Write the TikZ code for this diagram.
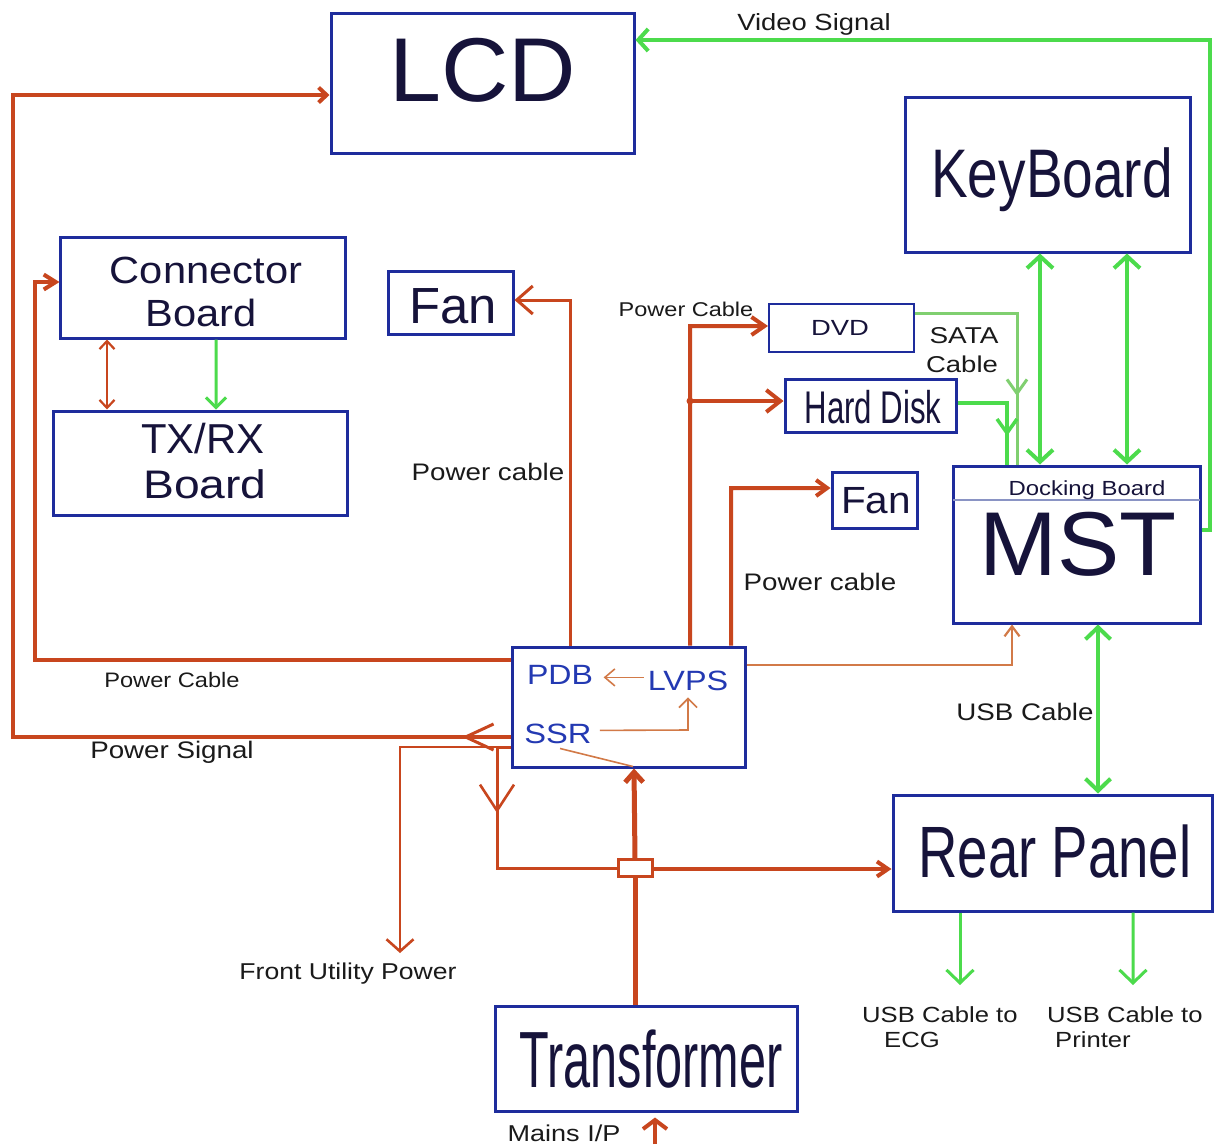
\documentclass[tikz,border=0pt]{standalone}
\usepackage{fontspec}
\setmainfont{Liberation Sans}
\usepackage{graphicx}
\usetikzlibrary{arrows.meta,calc}
\definecolor{boxblue}{HTML}{1E2C9C}
\definecolor{pwr}{HTML}{C8461E}
\definecolor{pwrlt}{HTML}{D27A48}
\definecolor{sig}{HTML}{4CDB4C}
\definecolor{sigdull}{HTML}{80CF70}
\definecolor{ink}{HTML}{16133A}
\definecolor{lbl}{HTML}{1A1A1A}
\definecolor{bluetxt}{HTML}{2339B2}
\definecolor{divider}{HTML}{8A94C4}
\newcommand{\txt}[3]{\scalebox{#2}[1]{\fontsize{#1}{#1}\selectfont #3}}
\begin{document}
\begin{tikzpicture}[x=1bp,y=-1bp,
  box/.style={draw=boxblue, line width=3bp, fill=white, inner sep=0pt, rectangle},
  title/.style={anchor=base, inner sep=0pt, text=ink},
  lab/.style={anchor=base, inner sep=0pt, text=lbl},
  bluelab/.style={anchor=base, inner sep=0pt, text=bluetxt},
  pline/.style={draw=pwr, line width=4bp},
  pthin/.style={draw=pwrlt, line width=1.6bp},
  gline/.style={draw=sig, line width=4bp},
  gdull/.style={draw=sigdull, line width=3bp},
]
\fill[white] (0,0) rectangle (1216,1146);
\useasboundingbox (0,0) rectangle (1216,1146);

% ---------- boxes ----------
\node[box, minimum width=303bp, minimum height=140bp] (lcd) at (482.5,83) {};
\node[box, minimum width=285bp, minimum height=155bp] (kb) at (1047.5,174.5) {};
\node[box, minimum width=284bp, minimum height=101bp] (cb) at (203,287.5) {};
\node[box, minimum width=293bp, minimum height=104bp] (tx) at (200.5,463) {};
\node[box, minimum width=125bp, minimum height=63bp] (fan1) at (450.5,302.5) {};
\node[box, line width=2bp, minimum width=145bp, minimum height=48bp] (dvd) at (841.5,328) {};
\node[box, minimum width=171bp, minimum height=53bp] (hd) at (870.5,405.5) {};
\node[box, minimum width=85bp, minimum height=56bp] (fan2) at (874.5,500) {};
\node[box, minimum width=247bp, minimum height=157bp] (mst) at (1076.5,544.5) {};
\node[box, minimum width=233bp, minimum height=120bp] (pdb) at (628.5,707) {};
\node[box, minimum width=319bp, minimum height=116bp] (rear) at (1052.5,853) {};
\node[box, minimum width=302bp, minimum height=105bp] (trans) at (646,1058.5) {};
\draw[divider, line width=1.2bp] ($(mst.west)+(1.5,-44.5)$) -- ($(mst.east)+(-1.5,-44.5)$);

% ---------- texts ----------
\node[title] (lcdT) at (483,101) {\txt{91}{1.03}{LCD}};
\node[lab] (vidT) at (814,30) {\txt{23.5}{1.17}{Video Signal}};
\node[title] (kbT) at (1052,197) {\txt{69}{0.8}{KeyBoard}};
\node[title] (cbT1) at (206,283) {\txt{38}{1.1}{Connector}};
\node[title] (cbT2) at (201,326) {\txt{38}{1.1}{Board}};
\node[title] (txT1) at (203,453) {\txt{42}{1.0}{TX/RX}};
\node[title] (txT2) at (205,498) {\txt{40}{1.16}{Board}};
\node[title] (fan1T) at (453,323) {\txt{51}{1}{Fan}};
\node[lab] (pcT) at (686,316) {\txt{20}{1.18}{Power Cable}};
\node[title] (dvdT) at (840,335) {\txt{22}{1.25}{DVD}};
\node[lab] (sataT1) at (964,343) {\txt{23}{1.22}{SATA}};
\node[lab] (sataT2) at (962,372) {\txt{23}{1.2}{Cable}};
\node[title] (hdT) at (873,423) {\txt{46}{0.68}{Hard Disk}};
\node[title] (fan2T) at (876,513) {\txt{38}{1.07}{Fan}};
\node[title] (dockT) at (1087,495) {\txt{20.5}{1.17}{Docking Board}};
\node[title] (mstT) at (1078,575) {\txt{91}{1.03}{MST}};
\node[lab] (pcmT) at (488,480) {\txt{24}{1.16}{Power cable}};
\node[lab] (pcrT) at (820,590) {\txt{24}{1.16}{Power cable}};
\node[bluelab] (pdbT) at (560,684) {\txt{28}{1.15}{PDB}};
\node[bluelab] (lvpsT) at (688,690) {\txt{28}{1.16}{LVPS}};
\node[bluelab] (ssrT) at (558,743) {\txt{28}{1.17}{SSR}};
\node[lab] (pclT) at (172,687) {\txt{21}{1.13}{Power Cable}};
\node[lab] (psT) at (172,758) {\txt{24}{1.16}{Power Signal}};
\node[lab] (usbT) at (1025,720) {\txt{24}{1.16}{USB Cable}};
\node[title] (rearT) at (1055,877) {\txt{73}{0.75}{Rear Panel}};
\node[lab] (fupT) at (348,979) {\txt{23}{1.16}{Front Utility Power}};
\node[title] (transT) at (651,1087) {\txt{80}{0.61}{Transformer}};
\node[lab] (mainsT) at (564,1141) {\txt{23}{1.18}{Mains I/P}};
\node[lab, anchor=base west] (ecgT1) at (862,1022) {\txt{22}{1.17}{USB Cable to}};
\node[lab, anchor=base west] (ecgT2) at (884,1047) {\txt{22}{1.17}{ECG}};
\node[lab, anchor=base west] (prnT1) at (1047,1022) {\txt{22}{1.17}{USB Cable to}};
\node[lab, anchor=base west] (prnT2) at (1055,1047) {\txt{22}{1.17}{Printer}};

% ---------- free end coordinates ----------
\coordinate (fup) at (400,953);
\coordinate (ecg) at (960,985);
\coordinate (prn) at (1133,985);
\coordinate (mains) at (655,1144);

% ---------- power (orange) ----------
% power signal to LCD
\draw[pline, -{Straight Barb[length=8bp,width=15bp]}]
  ($(pdb.west)+(0,30)$) -- (13,737) -- (13,95) -- ($(lcd.west)+(0,12)$);
\draw[pwr, line width=3bp, -{Straight Barb[length=28bp,width=26bp]}] (500,737) -- (462,737);
% power cable to connector board
\draw[pline, -{Straight Barb[length=12bp,width=15bp]}]
  ($(pdb.west)+(0,-47)$) -- (35,660) -- (35,282) -- ($(cb.west)+(0,-5.5)$);
% front utility power
\draw[pwr, line width=2.6bp, -{Straight Barb[length=12bp,width=27bp]}]
  ($(pdb.west)+(0,40)$) -- (400,747) -- (fup);
% to rear panel via junction
\draw[pwr, line width=3bp] ($(pdb.west)+(0,40)$) -- (497,747) -- (497,868) -- (618,868);
\draw[pwr, line width=2.6bp, -{Straight Barb[length=26bp,width=34bp]}] (497,790) -- (497,813);
\draw[pline, -{Straight Barb[length=11bp,width=15bp]}] (652,869) -- ($(rear.west)+(0,16)$);
% transformer up to PDB
\draw[pwr, line width=5bp] ($(trans.north)+(-11,0)$) -- (635,876);
\draw[pwr, line width=5bp, -{Straight Barb[length=10bp,width=18bp]}] (635,859) -- ($(pdb.south)+(5.5,0)$);
\node[draw=pwr, line width=3bp, fill=white, minimum width=34bp, minimum height=17bp, inner sep=0pt] (jb) at (635,867.5) {};
% fan 1
\draw[pwr, line width=3bp, -{Straight Barb[length=16bp,width=28bp]}]
  ($(pdb.north)+(-58.5,0)$) -- (570,300) -- ($(fan1.east)+(0,-2.5)$);
% DVD and Hard Disk
\draw[pline, -{Straight Barb[length=13bp,width=18bp]}]
  ($(pdb.north)+(61.5,0)$) -- (690,326) -- ($(dvd.west)+(0,-2)$);
\draw[pline, -{Straight Barb[length=14bp,width=22bp]}]
  (690,401) -- ($(hd.west)+(0,-4.5)$);
\fill[pwr] (690,401) circle (3.5bp);
% fan 2
\draw[pline, -{Straight Barb[length=11bp,width=16bp]}]
  ($(pdb.north)+(102.5,0)$) -- (731,488) -- ($(fan2.west)+(0,-12)$);
% PDB to MST
\draw[pwrlt, line width=2.2bp, -{Straight Barb[length=10bp,width=15bp]}]
  ($(pdb.east)+(0,-42)$) -- (1012,665) -- ($(mst.south)+(-64.5,0)$);
% connector board <-> TX/RX
\draw[pwr, line width=2.2bp, {Straight Barb[length=8bp,width=15bp]}-{Straight Barb[length=8bp,width=15bp]}]
  ($(cb.south)+(-96,0)$) -- ($(tx.north)+(-93.5,0)$);
% inside PDB block
\draw[pthin, -{Straight Barb[length=10bp,width=17bp]}] ($(lvpsT.west)+(-4,-3)$) -- ($(lvpsT.west)+(-44,-3)$);
\draw[pthin, -{Straight Barb[length=9bp,width=18bp]}] ($(ssrT.east)+(8,-3)$) -- (688,730) -- ($(lvpsT.south)+(0,7)$);
\draw[pthin] ($(ssrT.south)+(2,5)$) -- ($(pdb.south)+(4.5,-2)$);
% mains input
\draw[pwr, line width=4bp, -{Straight Barb[length=9bp,width=24bp]}] (mains) -- ($(trans.south)+(9,5)$);

% ---------- signal (green) ----------
\draw[gline, -{Straight Barb[length=10bp,width=22bp]}]
  ($(mst.east)+(0,-14.5)$) -- (1210,530) -- (1210,40) -- ($(lcd.east)+(0,-43)$);
\draw[gline, {Straight Barb[length=12bp,width=26bp]}-{Straight Barb[length=12bp,width=26bp]}]
  ($(kb.south)+(-7.5,0)$) -- ($(mst.north)+(-36.5,0)$);
\draw[gline, {Straight Barb[length=12bp,width=26bp]}-{Straight Barb[length=12bp,width=26bp]}]
  ($(kb.south)+(79.5,0)$) -- ($(mst.north)+(50.5,0)$);
\draw[gdull] ($(dvd.east)+(0,-15)$) -- (1017,313) -- ($(mst.north)+(-59.5,0)$);
\draw[gdull, -{Straight Barb[length=14bp,width=20bp]}] (1017,380) -- (1017,396);
\draw[gline, line width=3.5bp] ($(hd.east)+(0,-2.5)$) -- (1007,403) -- ($(mst.north)+(-69.5,0)$);
\draw[gline, line width=3.5bp, -{Straight Barb[length=14bp,width=20bp]}] (1007,420) -- (1007,436);
\draw[gline, {Straight Barb[length=12bp,width=25bp]}-{Straight Barb[length=12bp,width=25bp]}]
  ($(mst.south)+(21.5,0)$) -- ($(rear.north)+(45.5,0)$);
\draw[gline, line width=3bp, -{Straight Barb[length=13bp,width=27bp]}] ($(rear.south)+(-92.5,0)$) -- (ecg);
\draw[gline, line width=3bp, -{Straight Barb[length=13bp,width=27bp]}] ($(rear.south)+(80.5,0)$) -- (prn);
\draw[gline, line width=3bp, -{Straight Barb[length=10bp,width=20bp]}]
  ($(cb.south)+(13,0)$) -- ($(tx.north)+(15.5,0)$);
\end{tikzpicture}
\end{document}
